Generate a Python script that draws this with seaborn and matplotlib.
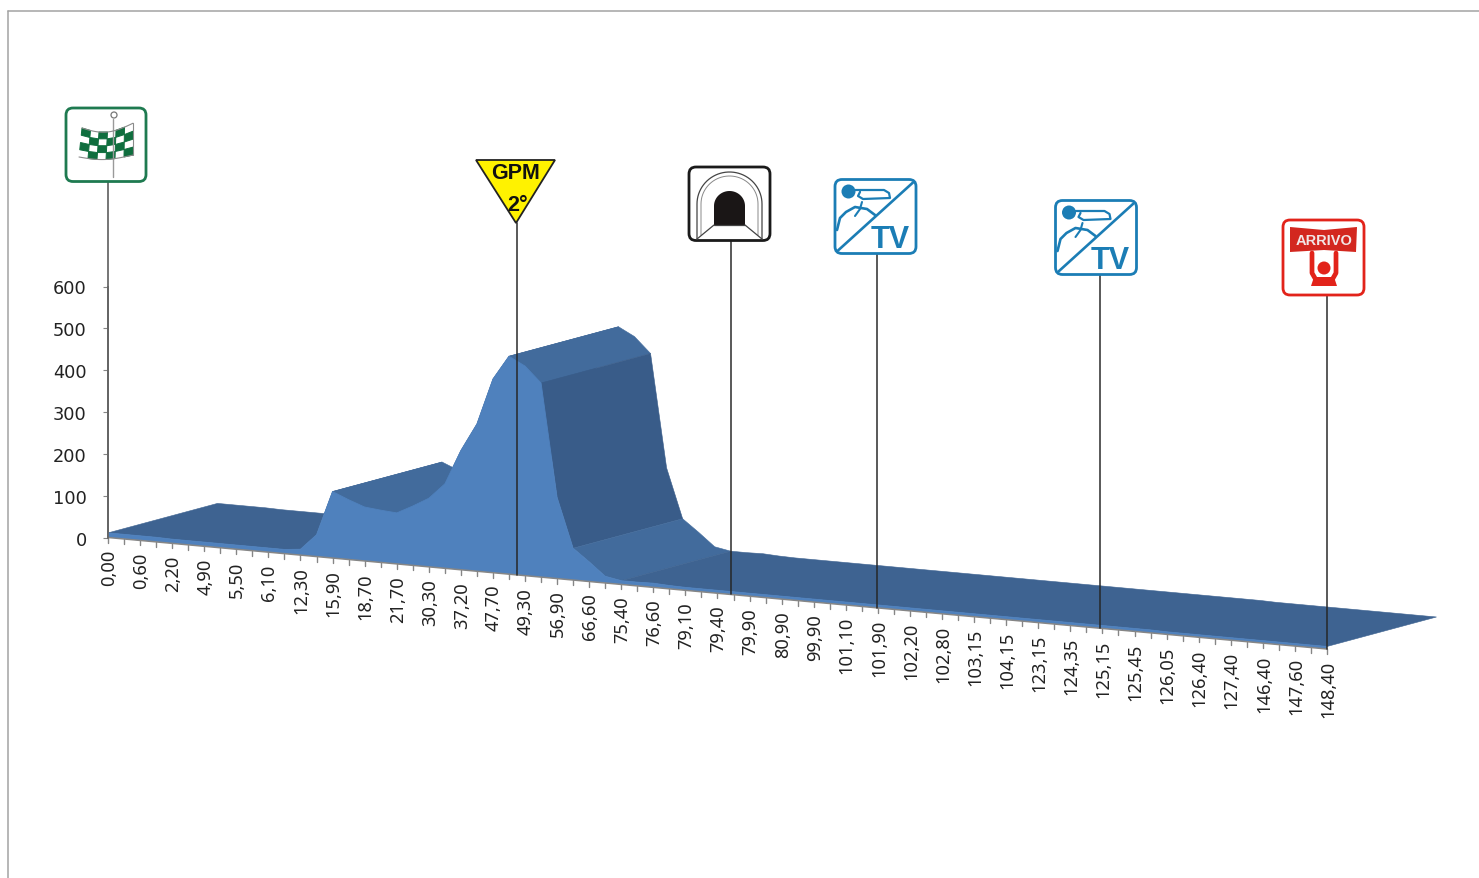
import numpy as np
import pandas as pd
import seaborn as sns
import matplotlib
matplotlib.use("Agg")
import matplotlib.pyplot as plt
from matplotlib.lines import Line2D
from matplotlib.patches import FancyBboxPatch, Polygon, Circle, Rectangle
from matplotlib.transforms import Affine2D

# ---- data -----------------------------------------------------------------
km_labels = ["0,00","0,60","2,20","4,90","5,50","6,10","12,30","15,90","18,70","21,70",
             "30,30","37,20","47,70","49,30","56,90","66,60","75,40","76,60","79,10","79,40",
             "79,90","80,90","99,90","101,10","101,90","102,20","102,80","103,15","104,15",
             "123,15","124,35","125,15","125,45","126,05","126,40","127,40","146,40","147,60","148,40"]
elevation = [11,11,11,11,10,10,10,10,10,10,10,10,14,52,159,143,129,125,122,142,164,202,285,352,
             463,521,501,464,194,76,47,16,9,9,10,8,7,7,7,7,7,7,7,7,7,7,7,7,7,7,7,7,7,7,7,7,7,
             7,7,7,7,7,7,7,7,7,6,6,6,6,6,6,6,6,6,6,6]
y_ticks = [0,100,200,300,400,500,600]
marker_pos = [0,25.52,38.85,47.92,61.82,76]

# ---- geometry / style -----------------------------------------------------
W,H = 1479,879
AX_L,AX_R,AX_TOP,AX_BOT = 108,1327,287.5,538.5
SHEAR = 3.507           # fall of the floor per category, in value units
DEPTH_X,DEPTH_Y = 6.827,70.5
FRONT = "#4F81BD"
FLAT,MID,STEEP = "#3E6391","#426B9C","#395C89"
marker_top_px = [183,224,242,255,276,296]

sns.set_theme(style="white")
plt.rcParams["font.family"] = ["DejaVu Sans"]
fig = plt.figure(figsize=(W/100,H/100),dpi=100,facecolor="white")
ax = fig.add_axes([AX_L/W,(H-AX_BOT)/H,(AX_R-AX_L)/W,(AX_BOT-AX_TOP)/H])
ax.set_facecolor("none")
ax.set_xlim(0,76); ax.set_ylim(0,600)

idx = np.arange(len(elevation),dtype=float)
elev = np.array(elevation,dtype=float)
base = -SHEAR*idx
top = elev+base

# depth strips, painted from left to right, runs of one shade merged
def shade(i):
    drop = (top[i]-top[i+1])*(AX_BOT-AX_TOP)/600/16.04
    return STEEP if drop>2.5 else MID if drop>0.15 else FLAT
i = 0
while i < len(idx)-1:
    j = i+1
    c = shade(i)
    while j < len(idx)-1 and shade(j)==c:
        j += 1
    xs = idx[i:j+1]; ys = top[i:j+1]
    ax.fill(np.r_[xs,xs[::-1]+DEPTH_X],np.r_[ys,ys[::-1]+DEPTH_Y],
            color=c,lw=0.4,clip_on=False,zorder=2)
    i = j
# front face
ax.fill(np.r_[idx,idx[::-1]],np.r_[top,base[::-1]],color=FRONT,lw=0,clip_on=False,zorder=3)
sns.lineplot(data=pd.DataFrame({"i":idx,"v":top}),x="i",y="v",color=FRONT,lw=0.6,ax=ax,zorder=3,clip_on=False)
ax.set_xlabel(""); ax.set_ylabel("")
ax.set_xlim(0,76); ax.set_ylim(0,600)

# value axis
for s in ["top","right","bottom"]:
    ax.spines[s].set_visible(False)
ax.spines["left"].set_color("#666666"); ax.spines["left"].set_linewidth(1.4)
ax.set_xticks([])
ax.set_yticks(y_ticks)
ax.tick_params(axis="y",left=True,length=3.8,width=0.8,color="#868686",pad=11.5,
               labelsize=12.8,labelcolor="#222222")

# category axis on the sheared floor
ax.plot(idx,base,color="#868686",lw=1.1,clip_on=False,zorder=4)
TICK = 5/((AX_BOT-AX_TOP)/600)
for k in range(len(idx)):
    ax.plot([k,k],[base[k],base[k]-TICK],color="#868686",lw=1,clip_on=False,zorder=4)
for k,lab in enumerate(km_labels):
    ax.annotate(lab,xy=(2*k,base[2*k]),xytext=(1,-11),textcoords="offset pixels",rotation=90,
                ha="center",va="top",fontsize=13.2,family="Noto Sans",color="#222222",annotation_clip=False)

# marker poles
for p,t in zip(marker_pos,marker_top_px):
    yb = -SHEAR*p
    ax.plot([p,p],[yb,(AX_BOT-t)*600/(AX_BOT-AX_TOP)],color="#262626" if p>0 else "#666666",
            lw=1.2 if p>0 else 1.4,clip_on=False,zorder=6,alpha=0.9)

# ---- pictograms, in picture pixels ----------------------------------------
px = Affine2D().scale(1,-1).translate(0,H)
def add(a):
    a.set_transform(px); fig.add_artist(a); return a
def line(xs,ys,c,lw):
    add(Line2D(xs,ys,color=c,lw=lw,solid_capstyle="round",solid_joinstyle="round"))
def box(x0,y0,x1,y1,c,lw=2.0):
    add(FancyBboxPatch((x0+6,y0+6),x1-x0-12,y1-y0-12,boxstyle="round,pad=6,rounding_size=7",
                       fc="white",ec=c,lw=lw,mutation_aspect=1))
def txt(x,y,s,size,c,**kw):
    fig.text(x,y,s,transform=px,fontsize=size,color=c,ha="center",va="center",
             family="Liberation Sans",fontweight="bold",**kw)

# start flag
G = "#1E7A50"
box(66,109,146,182.5,G)
line([113,113],[120,178],"#9a9a9a",1.0)
add(Circle((114,116),3,fc="white",ec="#777777",lw=0.9))
def flag(u,v):
    x = 79+54*u+3*(1-v)*(1-u)
    t = 129+5*np.sin(u*np.pi*1.05)-4*u*u
    b = 158+3*np.sin(u*np.pi*1.1)-1*u
    return x,t+(b-t)*v
cols,rows = 6,4
for c_ in range(cols):
    for r_ in range(rows):
        if (c_+r_)%2==0:
            pts = [flag(c_/cols,r_/rows),flag((c_+1)/cols,r_/rows),
                   flag((c_+1)/cols,(r_+1)/rows),flag(c_/cols,(r_+1)/rows)]
            add(Polygon(pts,fc="#0F6E3E",ec="#0F6E3E",lw=0.7))
u = np.linspace(0,1,30)
line([flag(a,0)[0] for a in u],[flag(a,0)[1] for a in u],"#8a8a8a",0.8)
line([flag(a,1)[0] for a in u],[flag(a,1)[1] for a in u],"#8a8a8a",0.8)
line([flag(1,0)[0],flag(1,1)[0]],[flag(1,0)[1],flag(1,1)[1]],"#8a8a8a",0.8)

# GPM
add(Polygon([(476,161),(555,161),(516,224),],fc="#FFF200",ec="#222222",lw=1.3,joinstyle="miter"))
txt(516,174,"GPM",15.5,"#111111")
txt(518,206,"2°",15.5,"#111111")

# tunnel
box(689,168,770,241.5,"#1a1a1a",2.0)
t_ = np.linspace(np.pi,0,40)
line(np.r_[697,729.5+32.5*np.cos(t_),762],np.r_[240,205+32*np.sin(-t_)+0,240],"#444444",0.9)
line(np.r_[701,729.5+28.5*np.cos(t_),758],np.r_[236,205+28*np.sin(-t_)+0,236],"#888888",0.7)
add(Polygon(np.c_[np.r_[714,729.5+15.5*np.cos(t_),745],np.r_[226,207+15*np.sin(-t_),226]],fc="#1a1616",ec="none"))
line([714,697],[226,240],"#444444",0.9)
line([745,762],[226,240],"#444444",0.9)
line([714,745],[226,226],"#444444",0.9)

# TV camera signs
B = "#1B7DB5"
def tv(dx,dy):
    box(835+dx,180.5+dy,916+dx,254.5+dy,B)
    line([838+dx,913+dx],[251.5+dy,183.5+dy],B,1.9)
    add(Circle((848.5+dx,192.5+dy),7,fc=B,ec="none"))
    line(np.array([855,884,889,890,863,858,860])+dx,np.array([191,191,194,199,200,197,193])+dy,B,1.6)
    line(np.array([837,840,846,855,867,875])+dx,np.array([231,219,213,208,210,216])+dy,B,1.9)
    line(np.array([862,860,855])+dx,np.array([203,210,217])+dy,B,1.5)
    txt(890+dx,240.5+dy,"TV",22,B)
tv(0,0)
tv(220.5,21)

# finish
R = "#E2231A"
box(1283,221,1364,296,R)
add(Polygon([(1290,228),(1324,231),(1357,228),(1356,253),(1324,251),(1290,253)],fc="#D3271F",ec="none"))
txt(1324,241,"ARRIVO",10.5,"#F2E6E6")
line([1312,1312,1316],[254,274,281],R,3.4)
line([1336,1336,1332],[254,274,281],R,3.4)
add(Circle((1324,269),6.5,fc=R,ec="none"))
add(Polygon([(1314,278),(1334,278),(1337,287),(1311,287)],fc=R,ec="none"))

# picture frame
line([8,8],[879,11.5],"#a3a3a3",1.1)
line([8,1479],[11.5,11.5],"#a3a3a3",1.1)

fig.savefig("out.png",dpi=100,facecolor="white")
